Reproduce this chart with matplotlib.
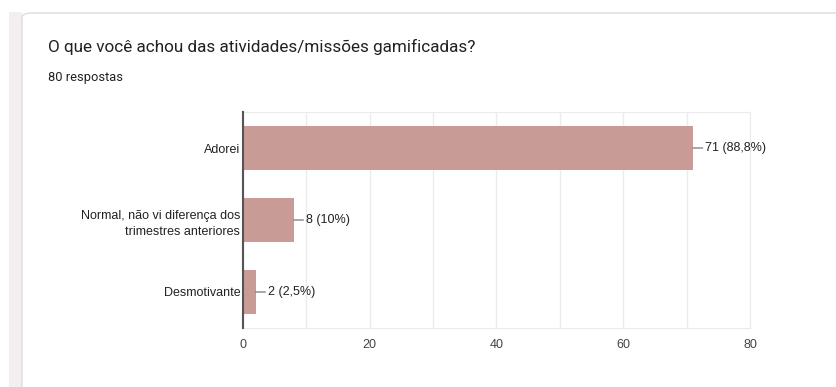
import matplotlib.pyplot as plt
from matplotlib.patches import FancyBboxPatch, Rectangle

# -----------------------------
# DATA
# -----------------------------
categories = ["Adorei", "Normal, não vi diferença dos\ntrimestres anteriores", "Desmotivante"]
counts = [71, 8, 2]
pct_labels = ["88,8%", "10%", "2,5%"]
x_ticks = [0, 20, 40, 60, 80]
title = "O que você achou das atividades/missões gamificadas?"
subtitle = "80 respostas"

W, H = 837, 387
fig = plt.figure(figsize=(W / 100, H / 100), dpi=100)
fig.patch.set_facecolor("white")

# page background strip + card outline
fig.patches.append(Rectangle((9 / W, 0), 13 / W, 1 - 12 / H, transform=fig.transFigure,
                             facecolor="#f4eeee", edgecolor="none", zorder=0))
fig.patches.append(FancyBboxPatch((22 / W, -0.2), 1.0, 1.2 - 13 / H,
                                  boxstyle="round,pad=0,rounding_size=0.012",
                                  transform=fig.transFigure, facecolor="white",
                                  edgecolor="#dadce0", linewidth=1.0, zorder=1))

fig.text(48 / W, 1 - 47 / H, title, fontsize=12.3, family="Roboto",
         color="#202124", va="center", ha="left")
fig.text(48 / W, 1 - 77 / H, subtitle, fontsize=9.3, family="Roboto",
         color="#202124", va="center", ha="left")

ax = fig.add_axes([243 / W, 1 - 328 / H, (750 - 243) / W, (328 - 112) / H])
ax.set_zorder(2)
ypos = list(range(len(categories)))
ax.barh(ypos, counts, height=0.61, color="#c89b96", zorder=3)

ax.set_xlim(0, 80)
ax.set_ylim(len(categories) - 0.5, -0.5)
ax.set_xticks(x_ticks)
ax.set_xticks(range(10, 80, 20), minor=True)
ax.set_yticks(ypos)
ax.set_yticklabels(categories, family="Liberation Sans", fontsize=9, color="#222222")
ax.tick_params(axis="x", length=0, pad=8, labelsize=9, labelcolor="#444444")
ax.tick_params(axis="x", which="minor", length=0)
ax.tick_params(axis="y", length=0, pad=2)
for lab in ax.get_xticklabels():
    lab.set_family("Liberation Sans")
for lab in ax.get_yticklabels():
    lab.set_multialignment("right")
    lab.set_linespacing(1.55)

ax.grid(axis="x", which="both", color="#ebebeb", linewidth=1, zorder=0)
for side in ["top", "right", "bottom"]:
    ax.spines[side].set_color("#ebebeb")
ax.spines["left"].set_color("#555555")
ax.spines["left"].set_linewidth(1.5)
ax.spines["left"].set_zorder(4)

for y, c, p in zip(ypos, counts, pct_labels):
    ax.annotate(f"{c} ({p})", xy=(c, y), xytext=(9, 0), textcoords="offset points",
                va="center", ha="left", fontsize=9, family="Liberation Sans",
                color="#222222",
                arrowprops=dict(arrowstyle="-", color="#666666", lw=0.8,
                                shrinkA=0, shrinkB=0))

fig.savefig("out.png", dpi=100)
